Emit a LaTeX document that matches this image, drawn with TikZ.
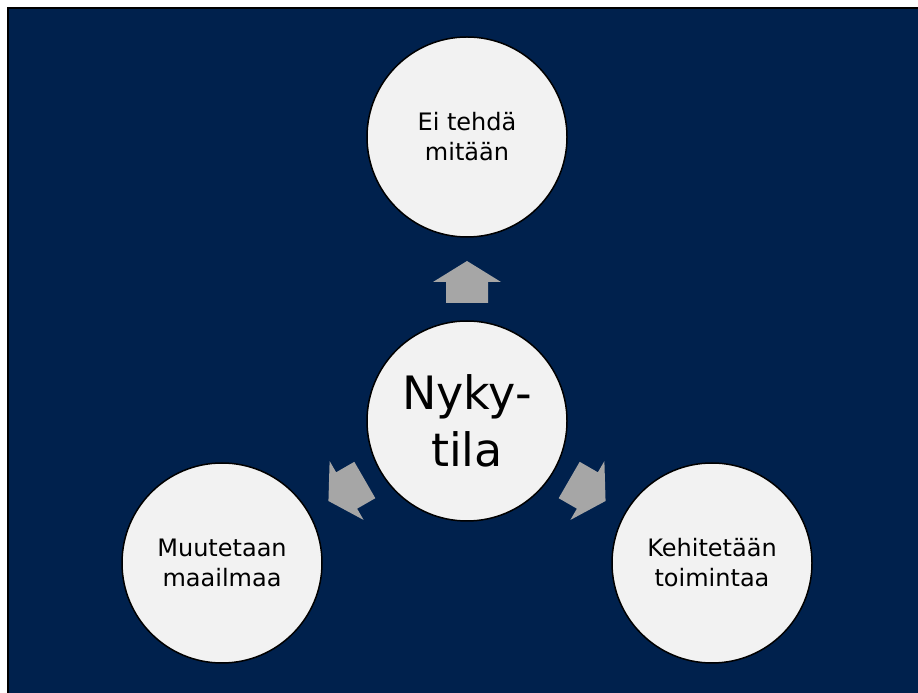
\documentclass[tikz,border=0pt]{standalone}
\usepackage{fontspec}
\setmainfont{DejaVu Sans}
\definecolor{navy}{RGB}{0,33,77}
\definecolor{bubblefill}{RGB}{242,242,242}
\definecolor{arrowgray}{RGB}{166,166,166}
\tikzset{
  bubble/.style={circle, draw=black, line width=1.5pt, fill=bubblefill,
    minimum size=200pt, inner sep=0pt, align=center,
    font=\fontsize{24}{30}\selectfont},
  hub/.style={bubble, font=\fontsize{46}{57}\selectfont}
}

\begin{document}
\begin{tikzpicture}[x=1pt,y=1pt]
    \useasboundingbox (0,0) rectangle (918,693);
    \draw[line width=2pt, fill=navy] (8,-10) rectangle (930,685);
    \node[hub] (nykytila) at (467,272) {Nyky-\\tila};
    \node[bubble] (eitehda) at (467,556) {Ei tehdä\\mitään};
    \node[bubble] (muutetaan) at (222,130) {Muutetaan\\maailmaa};
    \node[bubble] (kehitetaan) at (712,130) {Kehitetään\\toimintaa};
    \foreach \ang in {90,210,330}
    \fill[arrowgray, shift={(nykytila.center)}, rotate=\ang]
      (118,-21)--(139,-21)--(139,-34)--(160,0)--(139,34)--(139,21)--(118,21)--cycle;
  \end{tikzpicture}
\end{document}
